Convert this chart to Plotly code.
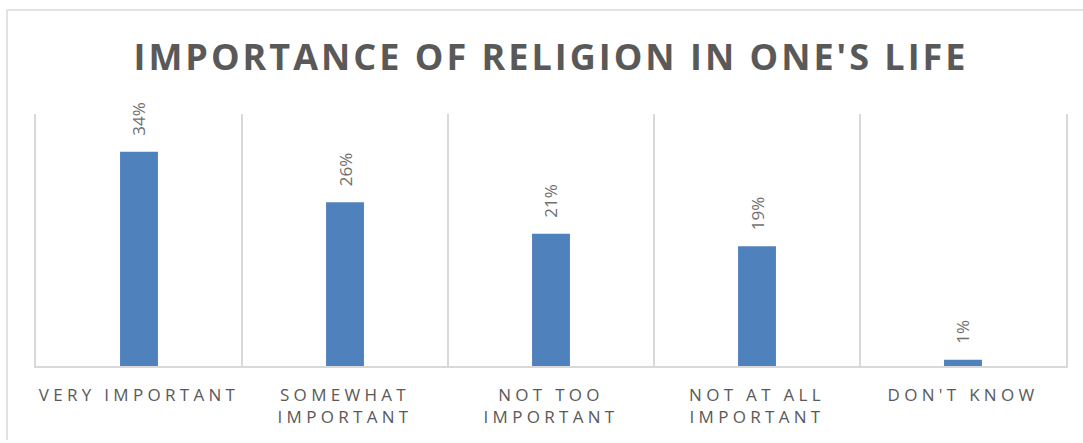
import plotly.graph_objects as go

categories = ["VERY IMPORTANT", "SOMEWHAT<br>IMPORTANT", "NOT TOO<br>IMPORTANT",
              "NOT AT ALL<br>IMPORTANT", "DON'T KNOW"]
values = [0.34, 0.26, 0.21, 0.19, 0.01]
labels = ["34%", "26%", "21%", "19%", "1%"]
title_text = "IMPORTANCE OF RELIGION IN ONE'S LIFE"

BAR = "#4F81BD"
GRID = "#D9D9D9"
TXT = "#595959"
FONT = "Open Sans"

fig = go.Figure(go.Bar(x=categories, y=values, marker_color=BAR, marker_line_width=0,
                       hoverinfo="skip"))

for c, v, t in zip(categories, values, labels):
    fig.add_annotation(x=c, y=v, text=t, showarrow=False, textangle=-90,
                       yanchor="bottom", yshift=14,
                       font=dict(family=FONT, size=17, color="#707070"))

L, R, T, B = 36, 17, 114, 77
W, H = 1083, 443
pw = W - L - R
ph = H - T - B

def px_x(x):
    return (x - L) / pw

def px_y(y):
    return (H - B - y) / ph

fig.add_shape(type="line", xref="paper", yref="paper", x0=px_x(7), x1=px_x(7),
              y0=px_y(10), y1=px_y(440), line=dict(color=GRID, width=1.5))
fig.add_shape(type="line", xref="paper", yref="paper", x0=px_x(7), x1=px_x(1090),
              y0=px_y(10), y1=px_y(10), line=dict(color=GRID, width=1.5))

fig.update_layout(
    width=W, height=H,
    margin=dict(l=L, r=R, t=T, b=B),
    paper_bgcolor="white", plot_bgcolor="white",
    bargap=0.816,
    showlegend=False,
    title=dict(text="<b>" + title_text + "</b>", x=0.5, xref="paper", xanchor="center",
               y=1 - 57.5 / H, yref="container", yanchor="middle",
               font=dict(family=FONT, size=36, color=TXT)),
    xaxis=dict(type="category", tickson="boundaries", showgrid=True, gridcolor=GRID,
               gridwidth=1.5, showline=True, linecolor=GRID, linewidth=1.5,
               ticks="", tickfont=dict(family=FONT, size=17, color=TXT),
               ticklabelstandoff=13, range=[-0.5, 4.5]),
    yaxis=dict(range=[0, 0.40], showgrid=False, showticklabels=False, zeroline=False,
               showline=True, mirror=True, linecolor=GRID, linewidth=1.5, ticks=""),
)

post = """
document.body.style.margin = '0';
document.body.style.padding = '0';
var gd = document.getElementById('{plot_id}');
function ls(){
  gd.querySelectorAll('.gtitle').forEach(function(e){e.style.letterSpacing='3px';});
  gd.querySelectorAll('.xtick text').forEach(function(e){e.style.letterSpacing='4.3px';});
}
ls();
gd.on('plotly_afterplot', ls);
"""

fig.write_html("out.html", post_script=post, config={"displayModeBar": False})
